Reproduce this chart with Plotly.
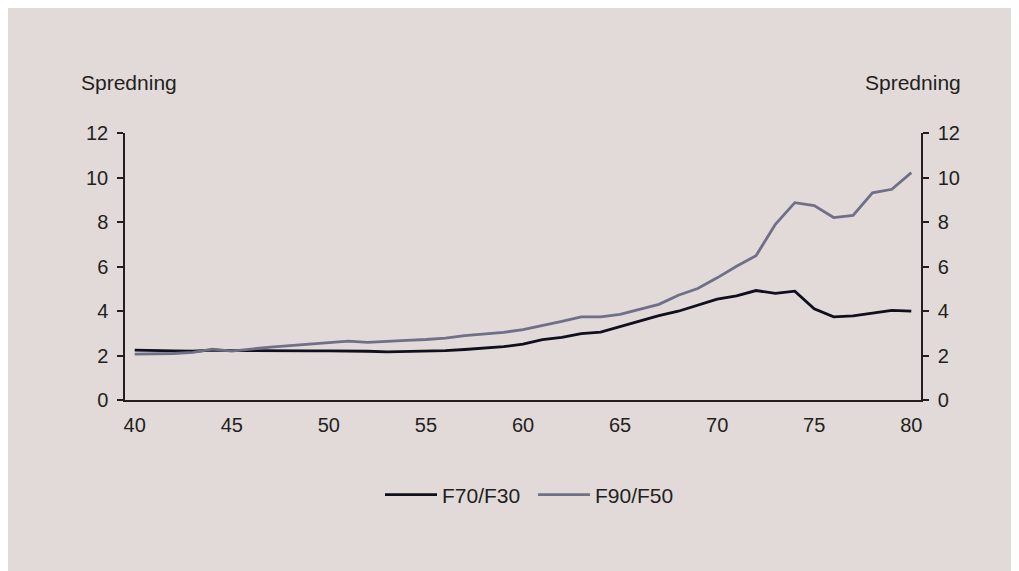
import plotly.graph_objects as go

years = list(range(40, 81))
f70_f30 = [2.24, 2.21, 2.21, 2.19, 2.24, 2.22, 2.21, 2.21, 2.21, 2.21, 2.21,
           2.21, 2.19, 2.16, 2.17, 2.18, 2.22, 2.27, 2.33, 2.40, 2.51,
           2.71, 2.81, 2.98, 3.05, 3.30, 3.53, 3.79, 3.99, 4.26, 4.53,
           4.68, 4.92, 4.79, 4.89, 4.10, 3.74, 3.78, 3.90, 4.03, 3.99]
f90_f50 = [2.06, 2.07, 2.09, 2.14, 2.29, 2.20, 2.30, 2.38, 2.44, 2.50, 2.56,
           2.65, 2.59, 2.65, 2.68, 2.72, 2.78, 2.89, 2.95, 3.04, 3.16,
           3.34, 3.53, 3.74, 3.74, 3.85, 4.07, 4.30, 4.71, 5.01, 5.49,
           6.01, 6.48, 7.90, 8.87, 8.74, 8.20, 8.30, 9.31, 9.47, 10.22]
x_ticks = [40, 45, 50, 55, 60, 65, 70, 75, 80]
y_ticks = [0, 2, 4, 6, 8, 10, 12]
axis_title = "Spredning"

BG = "#e1dad9"
INK = "#231f20"
FONT = "Liberation Sans, Arial, sans-serif"

OFF = 8  # page body margin
W, H = 1019, 571
ML, MR, MT, MB = 117, 106, 125, 179
PW, PH = W - ML - MR, H - MT - MB

fig = go.Figure()
fig.add_trace(go.Scatter(x=years, y=f70_f30, name="F70/F30", mode="lines",
                         line=dict(color="#0f0f1e", width=2.8), yaxis="y"))
fig.add_trace(go.Scatter(x=years, y=f90_f50, name="F90/F50", mode="lines",
                         line=dict(color="#6f6f88", width=2.8), yaxis="y2"))

def px_x(p):
    return (p - OFF - ML) / PW

def px_y(p):
    return (H - MB - (p - OFF)) / PH

yax = dict(range=[0, 12], tickvals=y_ticks, ticks="outside", ticklen=6,
           tickwidth=1.5, tickcolor=INK, showline=True, linecolor=INK,
           linewidth=1.5, showgrid=False, zeroline=False, ticklabelstandoff=5,
           tickfont=dict(size=20, color=INK, family=FONT), fixedrange=True)

fig.update_layout(
    width=W, height=H,
    margin=dict(l=ML, r=MR, t=MT, b=MB, pad=0),
    paper_bgcolor=BG, plot_bgcolor=BG,
    font=dict(family=FONT, color=INK, size=20),
    xaxis=dict(range=[39.5, 80.5], tickvals=x_ticks, ticks="", showline=True,
               linecolor=INK, linewidth=1.5, showgrid=False, zeroline=False,
               ticklabelstandoff=6,
               tickfont=dict(size=20, color=INK, family=FONT)),
    yaxis=dict(**yax, side="left"),
    yaxis2=dict(**yax, side="right", overlaying="y", matches="y"),
    showlegend=True,
    legend=dict(orientation="h", x=px_x(533), xanchor="center",
                y=px_y(495), yanchor="middle", itemwidth=52, entrywidth=86,
                font=dict(size=21, color=INK, family=FONT),
                bgcolor="rgba(0,0,0,0)"),
)

fig.add_annotation(text=axis_title, xref="paper", yref="paper",
                   x=px_x(79), y=px_y(82), xanchor="left", yanchor="middle",
                   showarrow=False, font=dict(size=21, color=INK, family=FONT))
fig.add_annotation(text=axis_title, xref="paper", yref="paper",
                   x=px_x(963), y=px_y(82), xanchor="right", yanchor="middle",
                   showarrow=False, font=dict(size=21, color=INK, family=FONT))

fig.write_html("out.html")
